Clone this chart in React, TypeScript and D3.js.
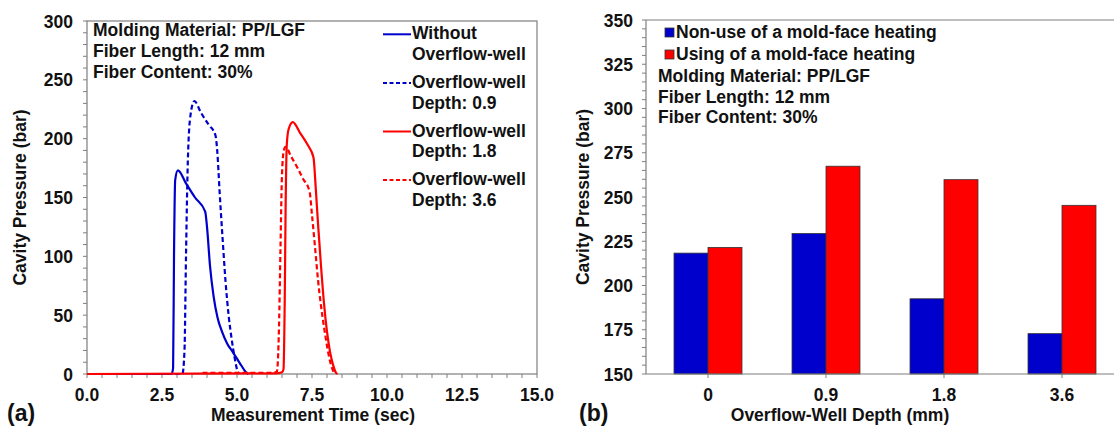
import React, { useEffect, useRef } from 'react';
import * as d3 from 'd3';

// ---- panel (a): cavity pressure vs time, [time (sec), pressure (bar)] ----
const withoutWell = [
  [0, 0], [2.82, 0], [2.87, 5], [2.9, 100], [2.94, 165], [3.03, 173], [3.3, 162], [3.6, 150],
  [3.94, 138], [4.0, 125], [4.1, 92], [4.22, 66], [4.35, 48], [4.5, 36], [4.67, 26], [4.85, 19],
  [5.0, 13], [5.15, 7], [5.3, 1.5], [5.38, 0],
];
const wellDepth09 = [
  [0, 0], [3.18, 0], [3.25, 20], [3.3, 100], [3.36, 180], [3.45, 220], [3.58, 232], [3.8, 222],
  [4.05, 212], [4.28, 203], [4.34, 190], [4.42, 155], [4.52, 115], [4.62, 78], [4.72, 50],
  [4.82, 30], [4.92, 14], [5.0, 4], [5.06, 0],
];
const wellDepth18 = [
  [0, 0], [6.3, 0.5], [6.5, 1.5], [6.55, 4], [6.59, 60], [6.62, 140], [6.66, 195], [6.72, 208],
  [6.86, 214], [7.1, 205], [7.35, 195], [7.55, 184], [7.62, 160], [7.7, 128], [7.8, 92], [7.9, 60],
  [8.0, 36], [8.1, 19], [8.2, 8], [8.3, 1], [8.35, 0],
];
const wellDepth36 = [
  [3.85, 1], [6.2, 1], [6.33, 2], [6.4, 40], [6.45, 108], [6.5, 170], [6.56, 190], [6.62, 193],
  [6.8, 185], [7.0, 176], [7.2, 166], [7.42, 155], [7.5, 135], [7.6, 108], [7.7, 80], [7.8, 58],
  [7.9, 40], [8.0, 24], [8.1, 11], [8.2, 3], [8.26, 0],
];
const lineSeries = [
  { label: ['Without', 'Overflow-well'], data: withoutWell, color: '#0000cc', dashed: false },
  { label: ['Overflow-well', 'Depth: 0.9'], data: wellDepth09, color: '#0000cc', dashed: true },
  { label: ['Overflow-well', 'Depth: 1.8'], data: wellDepth18, color: '#ff0000', dashed: false },
  { label: ['Overflow-well', 'Depth: 3.6'], data: wellDepth36, color: '#ff0000', dashed: true },
];
const timeTicks = [0, 2.5, 5, 7.5, 10, 12.5, 15];
const pressureTicksA = [0, 50, 100, 150, 200, 250, 300];

// ---- panel (b): peak cavity pressure per overflow-well depth ----
const depths = ['0', '0.9', '1.8', '3.6'];
const nonHeating = [218.3, 229.4, 192.5, 172.8];
const withHeating = [221.5, 267.4, 259.8, 245.3];
const barSeries = ['Non-use of a mold-face heating', 'Using of a mold-face heating'];
const barColors = ['#0000cc', '#ff0000'];
const pressureTicksB = [150, 175, 200, 225, 250, 275, 300, 325, 350];

const materialNotes = ['Molding Material: PP/LGF', 'Fiber Length: 12 mm', 'Fiber Content: 30%'];

const FONT = '"Liberation Sans", Arial, sans-serif';
const AXIS = '#7f7f7f';
const FS = '17.5px';

const App = () => {
  const svgRef = useRef<SVGSVGElement>(null);

  useEffect(() => {
    const svg = d3.select(svgRef.current);
    svg.selectAll('*').remove();
    svg.style('font-family', FONT).style('font-weight', 'bold');

    // ================= panel (a) =================
    const xA = d3.scaleLinear().domain([0, 15]).range([87, 537]);
    const yA = d3.scaleLinear().domain([0, 300]).range([374, 21]);
    const a = svg.append('g');

    // box
    a.append('rect')
      .attr('x', xA(0)).attr('y', yA(300))
      .attr('width', xA(15) - xA(0)).attr('height', yA(0) - yA(300))
      .attr('fill', 'none').attr('stroke', AXIS).attr('stroke-width', 1.2);

    // minor ticks
    a.selectAll('.xminA').data(d3.range(0, 15.01, 0.5)).enter().append('line')
      .attr('x1', d => xA(d)).attr('x2', d => xA(d))
      .attr('y1', yA(0)).attr('y2', yA(0) + 4)
      .attr('stroke', AXIS).attr('stroke-width', 1);
    a.selectAll('.yminA').data(d3.range(0, 300.1, 10)).enter().append('line')
      .attr('x1', xA(0) - 4).attr('x2', xA(0))
      .attr('y1', d => yA(d)).attr('y2', d => yA(d))
      .attr('stroke', AXIS).attr('stroke-width', 1);

    a.selectAll('.xlabA').data(timeTicks).enter().append('text')
      .attr('x', d => xA(d)).attr('y', 401)
      .attr('text-anchor', 'middle').style('font-size', FS).attr('fill', '#111')
      .text(d => d.toFixed(1));
    a.selectAll('.ylabA').data(pressureTicksA).enter().append('text')
      .attr('x', xA(0) - 14).attr('y', d => yA(d) + 6.5)
      .attr('text-anchor', 'end').style('font-size', FS).attr('fill', '#111')
      .text(d => d);

    a.append('text')
      .attr('x', 313).attr('y', 421)
      .attr('text-anchor', 'middle').style('font-size', FS).attr('fill', '#111')
      .text('Measurement Time (sec)');
    a.append('text')
      .attr('transform', `translate(26,${(yA(0) + yA(300)) / 2}) rotate(-90)`)
      .attr('text-anchor', 'middle').style('font-size', FS).attr('fill', '#111')
      .text('Cavity Pressure (bar)');
    a.append('text')
      .attr('x', 7).attr('y', 421)
      .style('font-size', '23px').attr('fill', '#111')
      .text('(a)');

    const line = d3.line<number[]>()
      .x(d => xA(d[0]))
      .y(d => yA(d[1]))
      .curve(d3.curveMonotoneX);

    lineSeries.forEach(s => {
      a.append('path')
        .datum(s.data)
        .attr('fill', 'none')
        .attr('stroke', s.color)
        .attr('stroke-width', 2.2)
        .attr('stroke-dasharray', s.dashed ? '5,3' : null)
        .attr('d', line);
    });

    // notes
    materialNotes.forEach((t, i) => {
      a.append('text')
        .attr('x', 93).attr('y', 36 + i * 21)
        .style('font-size', FS).attr('fill', '#111')
        .text(t);
    });

    // legend
    lineSeries.forEach((s, i) => {
      const base = 39.3 + i * 48.6;
      a.append('line')
        .attr('x1', 383).attr('x2', 411).attr('y1', base - 5).attr('y2', base - 5)
        .attr('stroke', s.color).attr('stroke-width', 2)
        .attr('stroke-dasharray', s.dashed ? '4,2.5' : null);
      s.label.forEach((t, j) => {
        a.append('text')
          .attr('x', 412).attr('y', base + j * 20.6)
          .style('font-size', FS).attr('fill', '#111')
          .text(t);
      });
    });

    // ================= panel (b) =================
    const xB = d3.scaleBand().domain(depths).range([649, 1121]).paddingInner(0.424).paddingOuter(0.212);
    const xSub = d3.scaleBand().domain(barSeries).range([0, xB.bandwidth()]);
    const yB = d3.scaleLinear().domain([150, 350]).range([374, 20]);
    const b = svg.append('g');

    const left = 646;
    b.append('line').attr('x1', left).attr('x2', 1114).attr('y1', yB(350)).attr('y2', yB(350))
      .attr('stroke', AXIS).attr('stroke-width', 1.2);

    const rows = depths.map((d, i) => ({ depth: d, values: [nonHeating[i], withHeating[i]] }));
    rows.forEach(r => {
      r.values.forEach((v, k) => {
        b.append('rect')
          .attr('x', (xB(r.depth) as number) + (xSub(barSeries[k]) as number))
          .attr('y', yB(v))
          .attr('width', xSub.bandwidth())
          .attr('height', yB(150) - yB(v))
          .attr('fill', barColors[k])
          .attr('stroke', '#333').attr('stroke-width', 0.8);
      });
    });

    b.append('line').attr('x1', left).attr('x2', left).attr('y1', yB(150)).attr('y2', yB(350))
      .attr('stroke', AXIS).attr('stroke-width', 1.2);
    b.append('line').attr('x1', left).attr('x2', 1114).attr('y1', yB(150)).attr('y2', yB(150))
      .attr('stroke', AXIS).attr('stroke-width', 1.2);

    b.selectAll('.yminB').data(d3.range(150, 350.1, 5)).enter().append('line')
      .attr('x1', left - 4).attr('x2', left)
      .attr('y1', d => yB(d)).attr('y2', d => yB(d))
      .attr('stroke', AXIS).attr('stroke-width', 1);
    b.selectAll('.xtickB').data(depths).enter().append('line')
      .attr('x1', d => (xB(d) as number) + xB.bandwidth() / 2)
      .attr('x2', d => (xB(d) as number) + xB.bandwidth() / 2)
      .attr('y1', yB(150)).attr('y2', yB(150) + 4)
      .attr('stroke', AXIS).attr('stroke-width', 1);

    b.selectAll('.xlabB').data(depths).enter().append('text')
      .attr('x', d => (xB(d) as number) + xB.bandwidth() / 2).attr('y', 401)
      .attr('text-anchor', 'middle').style('font-size', FS).attr('fill', '#111')
      .text(d => d);
    b.selectAll('.ylabB').data(pressureTicksB).enter().append('text')
      .attr('x', left - 13).attr('y', d => yB(d) + 6.5)
      .attr('text-anchor', 'end').style('font-size', FS).attr('fill', '#111')
      .text(d => d);

    b.append('text')
      .attr('x', 840).attr('y', 421)
      .attr('text-anchor', 'middle').style('font-size', FS).attr('fill', '#111')
      .text('Overflow-Well Depth (mm)');
    b.append('text')
      .attr('transform', `translate(589,${(yB(150) + yB(350)) / 2}) rotate(-90)`)
      .attr('text-anchor', 'middle').style('font-size', FS).attr('fill', '#111')
      .text('Cavity Pressure (bar)');
    b.append('text')
      .attr('x', 579).attr('y', 421)
      .style('font-size', '23px').attr('fill', '#111')
      .text('(b)');

    barSeries.forEach((s, i) => {
      const base = 38 + i * 22;
      b.append('rect')
        .attr('x', 665).attr('y', base - 10).attr('width', 9).attr('height', 9)
        .attr('fill', barColors[i]).attr('stroke', '#333').attr('stroke-width', 0.8);
      b.append('text')
        .attr('x', 676).attr('y', base)
        .style('font-size', FS).attr('fill', '#111')
        .text(s);
    });
    materialNotes.forEach((t, i) => {
      b.append('text')
        .attr('x', 658).attr('y', 82 + i * 20.7)
        .style('font-size', FS).attr('fill', '#111')
        .text(t);
    });
  }, []);

  return (
    <svg
      ref={svgRef}
      width={1114}
      height={428}
      style={{ position: 'absolute', left: 0, top: 0, background: '#fff' }}
    />
  );
};

export default App;
